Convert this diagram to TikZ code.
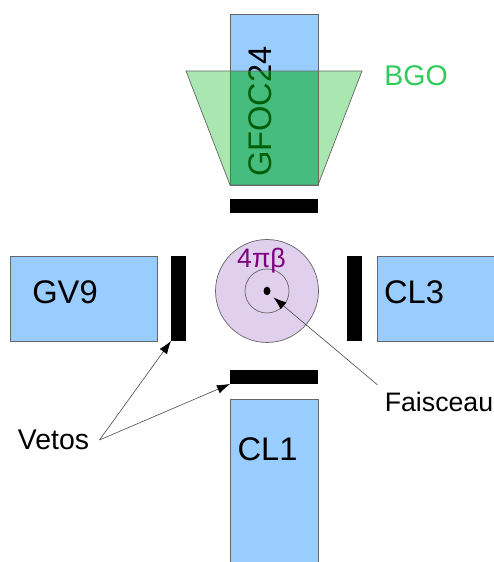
\documentclass[tikz,border=0pt]{standalone}
\usepackage{fontspec}
\setmainfont{Liberation Sans}
\usetikzlibrary{arrows.meta,shapes.geometric}
\definecolor{detblue}{RGB}{153,204,255}
\definecolor{bgopale}{RGB}{170,230,176}
\definecolor{bgodark}{RGB}{0,176,18}
\definecolor{bgotext}{RGB}{46,204,90}
\definecolor{betafill}{RGB}{224,208,238}
\definecolor{betatext}{RGB}{128,0,128}
\begin{document}
\begin{tikzpicture}[
    det/.style={
        rectangle,
        draw=black!60,
        line width=0.4pt,
        fill=detblue,
        inner sep=0pt,
        outer sep=0pt
    },
    veto/.style={
        rectangle,
        fill=black,
        inner sep=0pt,
        outer sep=0pt
    },
    ring/.style={
        circle,
        draw=black!60,
        line width=0.4pt,
        inner sep=0pt,
        outer sep=0pt
    },
    biglabel/.style={font=\fontsize{18.6pt}{22pt}\selectfont, inner sep=2pt},
    smalllabel/.style={font=\fontsize{16.2pt}{19pt}\selectfont, inner sep=2pt},
    pointer/.style={
        draw=black!70,
        line width=0.35pt,
        -{Latex[length=0.26cm,width=0.18cm,black]}
    }
]
\useasboundingbox (0,0) rectangle (9.86,11.24);

% BGO behind the detector
\fill[bgopale] (3.72,9.82) -- (7.24,9.82) -- (6.36,7.54) -- (4.6,7.54) -- cycle;

% detectors
\node[det, minimum width=1.76cm, minimum height=3.42cm] (gfoc) at (5.48,9.25) {};
\node[det, minimum width=2.94cm, minimum height=1.7cm] (gv) at (1.67,5.27) {};
\node[det, minimum width=2.96cm, minimum height=1.7cm] (cl3) at (9.02,5.27) {};
\node[det, minimum width=1.76cm, minimum height=3.42cm] (cl1) at (5.48,1.55) {};

\node[biglabel, rotate=90] (gfoclabel) at (5.20,9.01) {GFOC24};
\node[biglabel] (gvlabel) at (1.30,5.40) {GV9};
\node[biglabel] (cl3label) at (8.28,5.40) {CL3};
\node[biglabel] (cl1label) at (5.35,2.26) {CL1};

% BGO over the detector
\node[rectangle, fill=bgodark, fill opacity=0.54, inner sep=0pt,
    minimum width=1.76cm, minimum height=2.28cm] (overlap) at (5.48,8.68) {};
\draw[black!60, line width=0.4pt] (3.72,9.82) -- (7.24,9.82) -- (6.36,7.54) -- (4.6,7.54) -- cycle;
\node[smalllabel, text=bgotext] (bgolabel) at (8.32,9.72) {BGO};

% vetos
\node[veto, minimum width=1.76cm, minimum height=0.28cm] (vetotop) at (5.48,7.12) {};
\node[veto, minimum width=0.3cm, minimum height=1.7cm] (vetoleft) at (3.57,5.27) {};
\node[veto, minimum width=0.3cm, minimum height=1.7cm] (vetoright) at (7.09,5.27) {};
\node[veto, minimum width=1.76cm, minimum height=0.28cm] (vetobottom) at (5.48,3.70) {};

% 4 pi beta
\node[ring, fill=betafill, minimum size=2.06cm] (beta) at (5.34,5.42) {};
\node[ring, minimum size=0.88cm] (beamtube) at (5.34,5.42) {};
\node[ellipse, fill=black, inner sep=0pt, minimum width=0.14cm, minimum height=0.17cm] (beam) at (5.34,5.42) {};
\node[smalllabel, text=betatext, font=\fontsize{15.2pt}{19pt}\selectfont] (betalabel) at (5.23,6.02) {4πβ};

% labels and arrows
\node[smalllabel, inner sep=5.7pt] (vetos) at (1.07,2.44) {Vetos};
\node[smalllabel, inner sep=4pt, font=\fontsize{15.2pt}{19pt}\selectfont] (faisceau) at (8.78,3.2) {Faisceau};

\draw[pointer] (vetos.east) -- (vetoleft.south west);
\draw[pointer] (vetos.east) -- (vetobottom.south west);
\draw[pointer, shorten >=0.1cm] (faisceau.north west) -- (beam.south east);

\end{tikzpicture}
\end{document}
